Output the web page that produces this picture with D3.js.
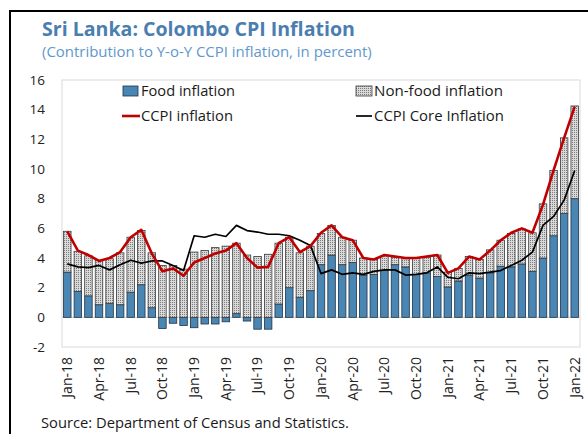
<!DOCTYPE html>
<html><head><meta charset="utf-8">
<script src="https://cdn.jsdelivr.net/npm/d3@7"></script>
<style>html,body{margin:0;padding:0;background:#fff;overflow:hidden}svg{display:block}</style>
</head><body>
<svg id="chart" width="588" height="434"></svg>
<script>
// ---- data ----
const months = ["Jan-18","Feb-18","Mar-18","Apr-18","May-18","Jun-18","Jul-18","Aug-18","Sep-18","Oct-18","Nov-18","Dec-18",
"Jan-19","Feb-19","Mar-19","Apr-19","May-19","Jun-19","Jul-19","Aug-19","Sep-19","Oct-19","Nov-19","Dec-19",
"Jan-20","Feb-20","Mar-20","Apr-20","May-20","Jun-20","Jul-20","Aug-20","Sep-20","Oct-20","Nov-20","Dec-20",
"Jan-21","Feb-21","Mar-21","Apr-21","May-21","Jun-21","Jul-21","Aug-21","Sep-21","Oct-21","Nov-21","Dec-21","Jan-22"];
const tickLabels = ["Jan-18","Apr-18","Jul-18","Oct-18","Jan-19","Apr-19","Jul-19","Oct-19","Jan-20","Apr-20","Jul-20","Oct-20","Jan-21","Apr-21","Jul-21","Oct-21","Jan-22"];
const yTicks = [-2,0,2,4,6,8,10,12,14,16];
const foodInflation = [3.05,1.75,1.45,0.85,0.95,0.85,1.7,2.2,0.65,-0.75,-0.4,-0.55,
 -0.7,-0.45,-0.45,-0.3,0.25,-0.25,-0.8,-0.8,0.9,2.0,1.35,1.8,
 3.55,4.2,3.55,3.7,2.85,2.9,3.15,3.55,3.4,2.9,3.0,2.75,
 2.05,2.45,2.85,2.65,3.0,3.45,3.4,3.6,3.1,4.0,5.5,7.0,8.0];
const nonFoodInflation = [2.75,2.7,2.7,3.0,3.0,3.5,3.7,3.65,3.7,3.5,3.5,3.25,
 4.4,4.5,4.7,4.8,4.75,4.2,4.1,4.25,4.1,3.4,3.0,3.0,
 2.1,2.0,1.85,1.5,1.15,1.0,1.0,0.5,0.55,1.1,1.05,1.45,
 1.0,0.85,1.25,1.25,1.55,1.75,2.25,2.35,2.6,3.65,4.4,5.1,6.25];
const ccpiInflation = [5.8,4.5,4.2,3.8,4.0,4.4,5.4,5.9,4.3,3.1,3.3,2.8,
 3.7,4.0,4.3,4.5,5.0,4.0,3.35,3.4,5.0,5.4,4.4,4.8,
 5.7,6.2,5.4,5.2,4.0,3.9,4.2,4.1,4.0,4.0,4.1,4.2,
 3.0,3.3,4.1,3.9,4.5,5.2,5.7,6.0,5.7,7.6,9.9,12.1,14.2];
const coreInflation = [3.6,3.4,3.35,3.5,3.2,3.55,3.85,3.65,3.8,3.8,3.5,3.15,
 5.5,5.4,5.6,5.45,6.2,5.85,5.75,5.6,5.6,5.5,5.2,4.85,
 2.95,3.2,2.9,3.0,2.9,3.1,3.2,3.2,2.85,2.9,3.0,3.4,
 2.7,2.6,3.0,2.95,3.05,3.15,3.5,3.85,4.4,6.2,6.8,7.9,9.9];

// ---- chart ----
const svg = d3.select("#chart");
const FONT = "'Open Sans', 'Noto Sans', sans-serif";
const blue = "#4a86b3";

function fit(sel, w){
  const l = sel.node().getComputedTextLength();
  const fs = parseFloat(sel.attr("font-size"));
  if (l > 0) sel.attr("font-size", (fs * w / l).toFixed(2));
}

// pattern for non-food
const defs = svg.append("defs");
const pat = defs.append("pattern").attr("id","dots").attr("patternUnits","userSpaceOnUse")
  .attr("width",2).attr("height",2);
pat.append("rect").attr("width",2).attr("height",2).attr("fill","#d9d9d9");
pat.append("rect").attr("width",1).attr("height",1).attr("fill","#7d7d7d");

// outer frame
svg.append("rect").attr("x",10).attr("y",11).attr("width",600).attr("height",460)
  .attr("fill","none").attr("stroke","#000").attr("stroke-width",2);

// title
const t1 = svg.append("text").attr("x",42).attr("y",36).attr("font-family",FONT)
  .attr("font-weight","bold").attr("font-size",20).attr("fill","#4a7eb0")
  .text("Sri Lanka: Colombo CPI Inflation");
fit(t1, 313);
const t2 = svg.append("text").attr("x",42).attr("y",57).attr("font-family",FONT)
  .attr("font-size",15).attr("fill","#6198cc")
  .text("(Contribution to Y-o-Y CCPI inflation, in percent)");
fit(t2, 330);

const L = 62, R = 580, T = 80, B = 347;
const x = d3.scaleBand().domain(months).range([L, R]).paddingInner(0.29).paddingOuter(0.145);
const y = d3.scaleLinear().domain([-2, 16]).range([B, T]);

// plot border
svg.append("rect").attr("x",L).attr("y",T).attr("width",R-L).attr("height",B-T)
  .attr("fill","none").attr("stroke","#d9d9d9").attr("stroke-width",1);
// zero line
svg.append("line").attr("x1",L).attr("x2",R).attr("y1",y(0)).attr("y2",y(0))
  .attr("stroke","#d4d4d4").attr("stroke-width",1.2);

// y labels
svg.append("g").selectAll("text").data(yTicks).join("text")
  .attr("x",45).attr("y",d=>y(d)).attr("dy","0.35em").attr("text-anchor","end")
  .attr("font-family",FONT).attr("font-size",13.5).attr("fill","#222")
  .text(d=>d);

// bars
const rows = months.map((m,i)=>({m, food: foodInflation[i], nf: nonFoodInflation[i]}));
svg.append("g").selectAll("rect").data(rows).join("rect")
  .attr("x",d=>x(d.m)).attr("width",x.bandwidth())
  .attr("y",d=>y(Math.max(0,d.food))).attr("height",d=>Math.abs(y(d.food)-y(0)))
  .attr("fill",blue).attr("stroke","#1f3347").attr("stroke-width",0.8);
svg.append("g").selectAll("rect").data(rows).join("rect")
  .attr("x",d=>x(d.m)).attr("width",x.bandwidth())
  .attr("y",d=>y(Math.max(0,d.food)+d.nf)).attr("height",d=>y(0)-y(d.nf))
  .attr("fill","url(#dots)").attr("stroke","#3a3a3a").attr("stroke-width",0.8);

// lines
const cx = m => x(m) + x.bandwidth()/2;
const line = d3.line().x(d=>cx(d[0])).y(d=>y(d[1]));
svg.append("path").datum(months.map((m,i)=>[m, coreInflation[i]]))
  .attr("d",line).attr("fill","none").attr("stroke","#000").attr("stroke-width",1.7)
  .attr("stroke-linejoin","round");
svg.append("path").datum(months.map((m,i)=>[m, ccpiInflation[i]]))
  .attr("d",line).attr("fill","none").attr("stroke","#c00000").attr("stroke-width",2.6)
  .attr("stroke-linejoin","round");

// x labels
svg.append("g").selectAll("text").data(tickLabels).join("text")
  .attr("transform",d=>`translate(${cx(d)},357) rotate(-90)`)
  .attr("dy","0.35em").attr("text-anchor","end")
  .attr("font-family",FONT).attr("font-size",14).attr("fill","#222")
  .text(d=>d);

// legend
const lg = svg.append("g").attr("font-family",FONT).attr("fill","#1a1a1a");
lg.append("rect").attr("x",123).attr("y",86).attr("width",15).attr("height",10)
  .attr("fill",blue).attr("stroke","#1f3347").attr("stroke-width",0.8);
lg.append("rect").attr("x",356).attr("y",86).attr("width",16).attr("height",10)
  .attr("fill","url(#dots)").attr("stroke","#3a3a3a").attr("stroke-width",0.8);
lg.append("line").attr("x1",122).attr("x2",140).attr("y1",116).attr("y2",116)
  .attr("stroke","#c00000").attr("stroke-width",2.6);
lg.append("line").attr("x1",356).attr("x2",372).attr("y1",116).attr("y2",116)
  .attr("stroke","#000").attr("stroke-width",1.7);
const legendItems = [
  ["Food inflation",141,91,94],["Non-food inflation",374,91,129],
  ["CCPI inflation",141,116,92],["CCPI Core Inflation",374,116,130]];
legendItems.forEach(([s,lx,ly,w])=>{
  const t = lg.append("text").attr("x",lx).attr("y",ly).attr("dy","0.35em")
    .attr("font-size",14.5).attr("fill","#1a1a1a").text(s);
  fit(t, w);
});

// source
const src = svg.append("text").attr("x",41).attr("y",428).attr("font-family",FONT)
  .attr("font-size",14).attr("fill","#1a1a1a").text("Source: Department of Census and Statistics.");
fit(src, 308);
</script>
</body></html>
